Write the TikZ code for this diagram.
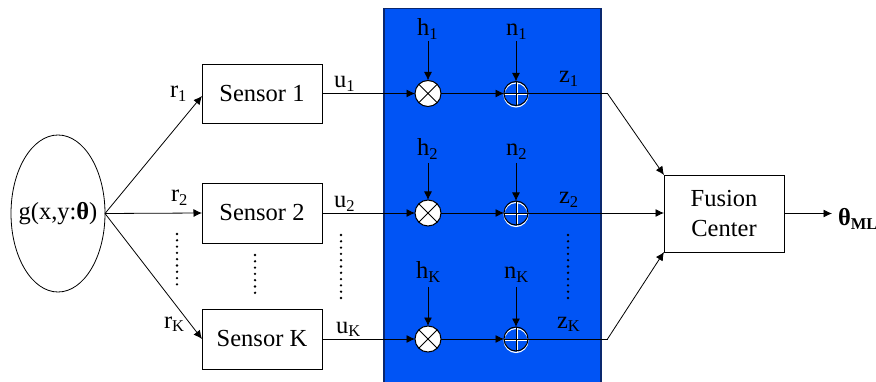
\documentclass[tikz,border=0pt]{standalone}
\usepackage{fontspec}
\setmainfont{Liberation Serif}
\usetikzlibrary{arrows.meta,shapes.geometric}
\definecolor{panelblue}{RGB}{0,84,245}
\definecolor{panelnavy}{RGB}{10,40,110}
\newcommand{\lsub}[1]{\raisebox{-3.5pt}{\fontsize{16.5}{16.5}\selectfont #1}}
\tikzset{
  x=1pt,y=-1pt,
  every node/.style={font=\fontsize{24.5}{30}\selectfont,inner sep=0pt,outer sep=0pt},
  box/.style={draw=black,line width=0.8pt,fill=white,align=center},
  lbl/.style={anchor=base west},
  conn/.style={line width=0.8pt,-{Latex[length=8.5pt,width=8pt]}},
  plain/.style={line width=0.8pt},
  mul/.style={circle,draw=black,line width=1pt,fill=white,minimum size=26pt},
  add/.style={circle,draw=black,line width=1pt,minimum size=24pt},
  dots/.style={line width=2.6pt,line cap=round,dash pattern=on 0pt off 6.3pt},
}
\begin{document}
\begin{tikzpicture}
\useasboundingbox (0,0) rectangle (876,382);
% panel
\begin{scope}
\clip (0,0) rectangle (876,382);
\draw[draw=panelnavy,fill=panelblue,line width=1.4pt] (384,8.5) rectangle (601,392);
\end{scope}
% nodes
\node[draw=black,line width=0.8pt,ellipse,minimum width=94pt,minimum height=157pt] (src) at (58,213.5) {};
\node (srctext) at (src.center) {g(x,y:\textbf{θ})};
\node[box,minimum width=120pt,minimum height=59pt] (s1) at (262,93.5) {Sensor 1};
\node[box,minimum width=120pt,minimum height=60pt] (s2) at (262,213) {Sensor 2};
\node[box,minimum width=120pt,minimum height=60pt] (sk) at (262,339) {Sensor K};
\node[box,minimum width=120pt,minimum height=77pt] (fc) at (724,213.5) {Fusion\\Center};
\foreach \n/\y in {1/93.5,2/213,k/339}{
  \node[mul] (m\n) at (428,\y) {};
  \draw[line width=1pt] (m\n.north west) -- (m\n.south east) (m\n.north east) -- (m\n.south west);
  \draw[white,line width=1.1pt] (516,\y+1.5) circle (12);
  \draw[white,line width=1pt] (504,\y+1.5) -- (528,\y+1.5) (517,\y-11) -- (517,\y+13);
  \node[add] (a\n) at (516,\y) {};
  \draw[line width=0.8pt] (a\n.north) -- (a\n.south);
  \coordinate (b\n) at (607.5,\y);
}
% labels
\node[lbl] (r1) at (170,98) {r\lsub{1}};
\node[lbl] (r2) at (171,202) {r\lsub{2}};
\node[lbl] (rk) at (164,328) {r\lsub{K}};
\node[lbl] (u1) at (334,88) {u\lsub{1}};
\node[lbl] (u2) at (334,208) {u\lsub{2}};
\node[lbl] (uk) at (336,333) {u\lsub{K}};
\node[lbl] (h1) at (417,36) {h\lsub{1}};
\node[lbl] (h2) at (417,156) {h\lsub{2}};
\node[lbl] (hk) at (416,279) {h\lsub{K}};
\node[lbl] (n1) at (506,36) {n\lsub{1}};
\node[lbl] (n2) at (506,156) {n\lsub{2}};
\node[lbl] (nk) at (504,279) {n\lsub{K}};
\node[lbl] (z1) at (559,83) {z\lsub{1}};
\node[lbl] (z2) at (559,204) {z\lsub{2}};
\node[lbl] (zk) at (557,328) {z\lsub{K}};
\node[lbl] (out) at (838,226) {\textbf{θ\lsub{ML}}};
% connectors
\draw[conn] (src.east) -- (202,96);
\draw[conn] (src.east) -- (s2.west);
\draw[conn] (src.east) -- (202,339);
\foreach \n/\S/\g in {1/s1/-2pt,2/s2/-3.5pt,k/sk/-4.5pt}{
  \draw[conn] (\S.east) -- (m\n.west);
  \draw[conn] (m\n.east) -- (a\n.west);
  \draw[plain] (a\n.west) -- (b\n);
  \draw[conn] ([yshift=\g]h\n.south -| m\n.north) -- (m\n.north);
  \draw[conn] ([yshift=\g]n\n.south -| a\n.north) -- (a\n.north);
}
\draw[conn] (b1) -- (fc.north west);
\draw[conn] (b2) -- (fc.west |- b2);
\draw[conn] (bk) -- (fc.south west);
\draw[conn] (fc.east) -- (832,213.5);
% dotted runs
\draw[dots] (177,234) -- (177,285);
\draw[dots] (255,255) -- (255,294);
\draw[dots] (341,235) -- (341,298);
\draw[dots] (568,235) -- (568,298);
\end{tikzpicture}
\end{document}
